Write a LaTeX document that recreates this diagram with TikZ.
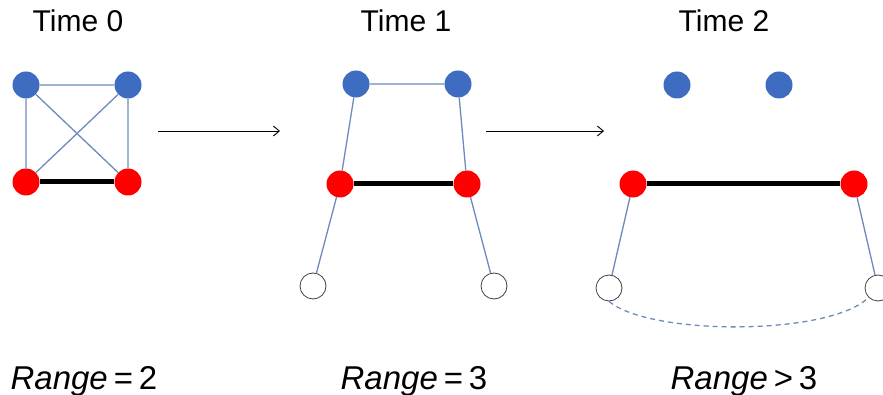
\documentclass[tikz,border=0pt]{standalone}
\usepackage{fontspec}
\setmainfont{Liberation Sans}
\usetikzlibrary{arrows.meta}
\definecolor{bnode}{RGB}{62,108,192}
\definecolor{bedge}{RGB}{108,138,190}
\definecolor{rnode}{RGB}{255,0,0}
\newcommand{\rsp}{\hspace{0.18em}}
\begin{document}
\begin{tikzpicture}[x=1pt,y=-1pt,
  bluenode/.style={circle,inner sep=0pt,minimum size=27pt,fill=bnode,draw=none},
  rednode/.style={circle,inner sep=0pt,minimum size=27pt,fill=rnode,draw=none},
  whitenode/.style={circle,inner sep=0pt,minimum size=26pt,fill=white,draw=black!75,line width=0.8pt},
  thinedge/.style={draw=bedge,line width=1.3pt},
  thickedge/.style={draw=black,line width=5pt},
  dashedge/.style={draw=bedge,line width=1.3pt,dash pattern=on 5pt off 4pt},
  flow/.style={draw=black,line width=0.9pt,-{Straight Barb[length=6pt,width=10pt]}},
  title/.style={font=\fontsize{30}{34}\selectfont,anchor=base},
  rangelabel/.style={font=\fontsize{33}{38}\selectfont,anchor=base}]
\useasboundingbox (0,0) rectangle (883,395);
% titles
\node[title] (t0) at (78,32) {Time 0};
\node[title] (t1) at (406,32) {Time 1};
\node[title] (t2) at (724,32) {Time 2};
% Time 0
\node[bluenode] (a1) at (26,85) {};
\node[bluenode] (a2) at (128,85) {};
\node[rednode] (a3) at (26,182) {};
\node[rednode] (a4) at (128,182) {};
% Time 1
\node[bluenode] (b1) at (356,84) {};
\node[bluenode] (b2) at (458,84) {};
\node[rednode] (b3) at (340,184) {};
\node[rednode] (b4) at (467,184) {};
\node[whitenode] (b5) at (313,286) {};
\node[whitenode] (b6) at (494,286) {};
% Time 2
\node[bluenode] (c1) at (677,85) {};
\node[bluenode] (c2) at (779,85) {};
\node[rednode] (c3) at (633,184) {};
\node[rednode] (c4) at (854,184) {};
\node[whitenode] (c5) at (609,288) {};
\node[whitenode] (c6) at (878,288) {};
% edges
\path[thinedge] (a1) -- (a2) (a1) -- (a3) (a2) -- (a4) (a1) -- (a4) (a2) -- (a3);
\path[thickedge] (a3) -- (a4);
\path[thinedge] (b1) -- (b2) (b1) -- (b3) (b2) -- (b4) (b3) -- (b5) (b4) -- (b6);
\path[thickedge] (b3) -- (b4);
\path[thinedge] (c3) -- (c5) (c4) -- (c6);
\path[thickedge] (c3) -- (c4);
\path[dashedge] (c5.south) .. controls (650,336) and (830,336) .. (c6.south west);
% flow arrows
\coordinate (f1s) at (158,131); \coordinate (f1e) at (280,131);
\coordinate (f2s) at (486,131); \coordinate (f2e) at (604,131);
\path[flow] (f1s) -- (f1e);
\path[flow] (f2s) -- (f2e);
% range labels
\node[rangelabel] (r0) at (84,389) {\textit{Range}\rsp=\rsp2};
\node[rangelabel] (r1) at (414,389) {\textit{Range}\rsp=\rsp3};
\node[rangelabel] (r2) at (744,389) {\textit{Range}\rsp>\rsp3};
\end{tikzpicture}
\end{document}
